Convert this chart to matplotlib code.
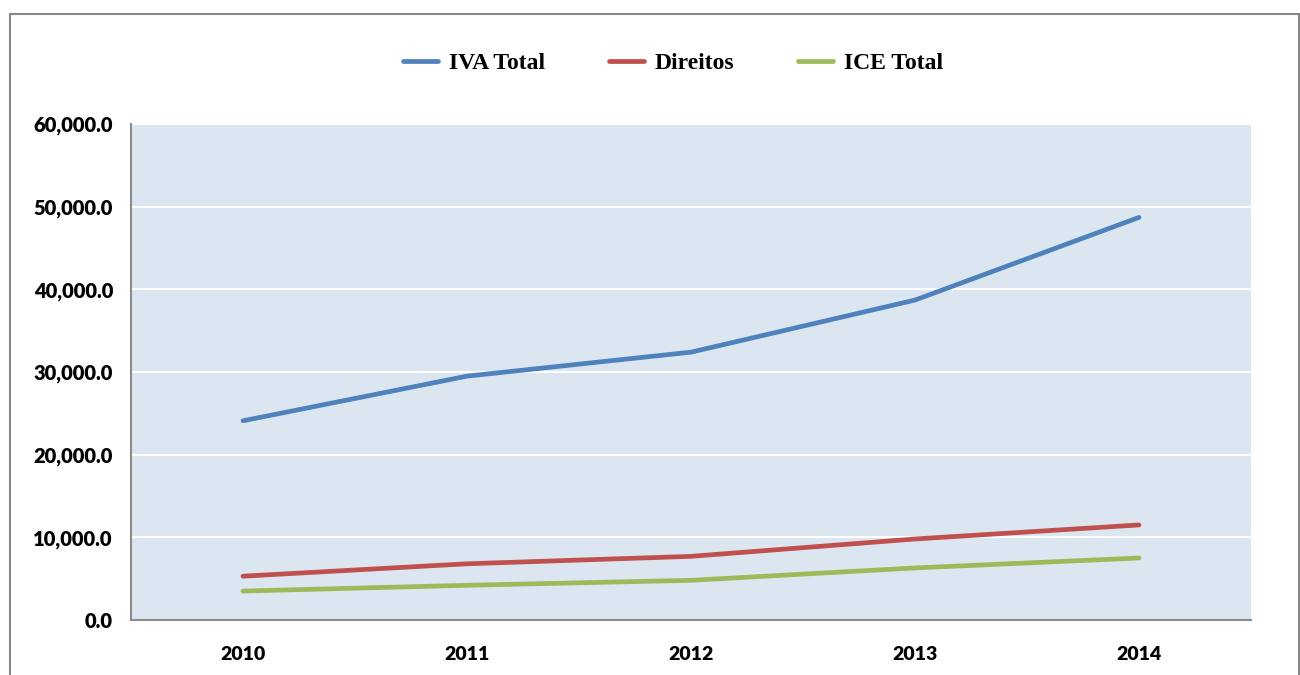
import matplotlib
matplotlib.use("Agg")
import matplotlib.pyplot as plt
from matplotlib.patches import Rectangle
from matplotlib.ticker import FuncFormatter

years = ["2010", "2011", "2012", "2013", "2014"]
iva_total = [24100, 29500, 32400, 38700, 48700]
direitos = [5300, 6800, 7700, 9800, 11500]
ice_total = [3500, 4200, 4800, 6300, 7500]
series_names = ["IVA Total", "Direitos", "ICE Total"]
y_ticks = [0, 10000, 20000, 30000, 40000, 50000, 60000]

colors = ["#4F81BD", "#C0504D", "#9BBB59"]

fig = plt.figure(figsize=(13, 6.75), dpi=100)
ax = fig.add_axes([131/1300, 1-620/675, (1251-131)/1300, (620-124)/675])
ax.set_facecolor("#DCE6F1")

x = list(range(len(years)))
for vals, name, c in zip([iva_total, direitos, ice_total], series_names, colors):
    ax.plot(x, vals, color=c, lw=3.4, solid_capstyle="round", solid_joinstyle="round", label=name, zorder=3)

ax.set_xlim(-0.5, len(years) - 0.5)
ax.set_ylim(0, 60000)
ax.set_yticks(y_ticks)
ax.yaxis.set_major_formatter(FuncFormatter(lambda v, p: f"{v:,.1f}"))
ax.set_xticks(x)
ax.set_xticklabels(years)
ax.grid(axis="y", color="white", lw=1.5, zorder=1)
ax.set_axisbelow(True)

for s in ["top", "right"]:
    ax.spines[s].set_visible(False)
for s in ["left", "bottom"]:
    ax.spines[s].set_color("#8C8C8C")
    ax.spines[s].set_linewidth(1.5)

ax.tick_params(axis="both", length=0)
ax.tick_params(axis="y", pad=13)
ax.tick_params(axis="x", pad=19)
for lab in ax.get_yticklabels():
    lab.set_fontfamily("Lato"); lab.set_fontweight("heavy"); lab.set_fontsize(14.5)
for lab in ax.get_xticklabels():
    lab.set_fontfamily("Lato"); lab.set_fontweight("heavy"); lab.set_fontsize(14)

leg = fig.legend(loc="center", bbox_to_anchor=(673/1300, 1-63/675), ncol=3, frameon=False,
                 prop={"family": "Liberation Serif", "weight": "bold", "size": 17},
                 handlelength=1.5, handletextpad=0.45, columnspacing=2.7)

fig.patches.append(Rectangle((10/1300, -0.05), (1299-10)/1300, (675-14)/675 + 0.05,
                             transform=fig.transFigure, fill=False, edgecolor="#868686", lw=1.5))

fig.savefig("out.png", dpi=100)
